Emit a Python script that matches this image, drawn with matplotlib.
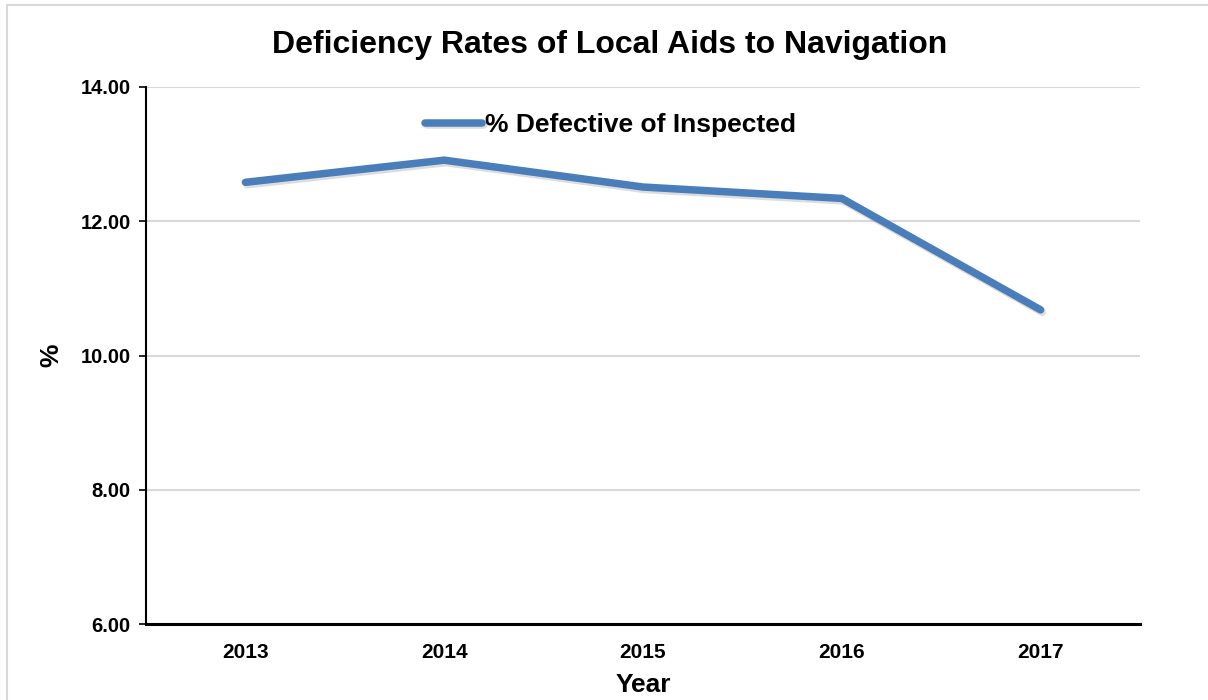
import matplotlib
matplotlib.use("Agg")
import matplotlib.pyplot as plt
import matplotlib.patheffects as pe
from matplotlib.patches import Rectangle

years = ["2013", "2014", "2015", "2016", "2017"]
pct_defective = [12.58, 12.91, 12.51, 12.34, 10.68]
y_ticks = [6.0, 8.0, 10.0, 12.0, 14.0]

plt.rcParams['font.family'] = ['Liberation Sans', 'DejaVu Sans']

W, H = 1208, 700
fig = plt.figure(figsize=(W / 100, H / 100), dpi=100)
ax = fig.add_axes([146 / W, 76 / H, 994 / W, 537 / H])

# light outer frame round the chart area
fig.patches.append(Rectangle((7 / W, -0.1), 1.2, 1 - 5 / H + 0.1,
                             transform=fig.transFigure, fill=False,
                             edgecolor='#d9d9d9', linewidth=1.5))

x = range(len(years))
ax.plot(x, pct_defective, color='#4a7ebb', linewidth=5.4,
        solid_capstyle='round', solid_joinstyle='miter',
        label='% Defective of Inspected',
        path_effects=[pe.SimpleLineShadow(offset=(1.2, -1.8), alpha=0.18, shadow_color='#444444'),
                      pe.Normal()])

ax.set_xlim(-0.5, len(years) - 0.5)
ax.set_ylim(6, 14)
ax.set_yticks(y_ticks)
ax.set_yticklabels([f"{v:.2f}" for v in y_ticks], fontsize=14.5, fontweight='bold')
ax.set_xticks(list(x))
ax.set_xticklabels(years, fontsize=15, fontweight='bold')
ax.tick_params(axis='x', length=0, pad=14)
ax.tick_params(axis='y', length=5, width=1.2, direction='out', pad=6)

ax.grid(axis='y', color='#d9d9d9', linewidth=1.5)
ax.set_axisbelow(True)
for side in ('top', 'right'):
    ax.spines[side].set_visible(False)
ax.spines['left'].set_linewidth(1.5)
ax.spines['bottom'].set_linewidth(2.2)
ax.spines['bottom'].set_zorder(5)

ax.set_xlabel('Year', fontsize=19, fontweight='bold')
ax.xaxis.set_label_coords(0.5, -(685 - 624) / 537, transform=ax.transAxes)
ax.xaxis.label.set_va('center')
ax.set_ylabel('%', fontsize=19, fontweight='bold')
ax.yaxis.set_label_coords(-(146 - 51) / 994, 0.5)
ax.yaxis.label.set_va('center')

fig.text(610 / W, 1 - 45 / H, 'Deficiency Rates of Local Aids to Navigation',
         ha='center', va='center', fontsize=23, fontweight='bold')

leg = ax.legend(loc='center left', bbox_to_anchor=(425 / W, 1 - 125 / H),
                bbox_transform=fig.transFigure, frameon=False,
                borderpad=0, borderaxespad=0,
                prop={'size': 19, 'weight': 'bold'}, handlelength=2.16,
                handletextpad=0.12)

fig.savefig('out.png', dpi=100)
